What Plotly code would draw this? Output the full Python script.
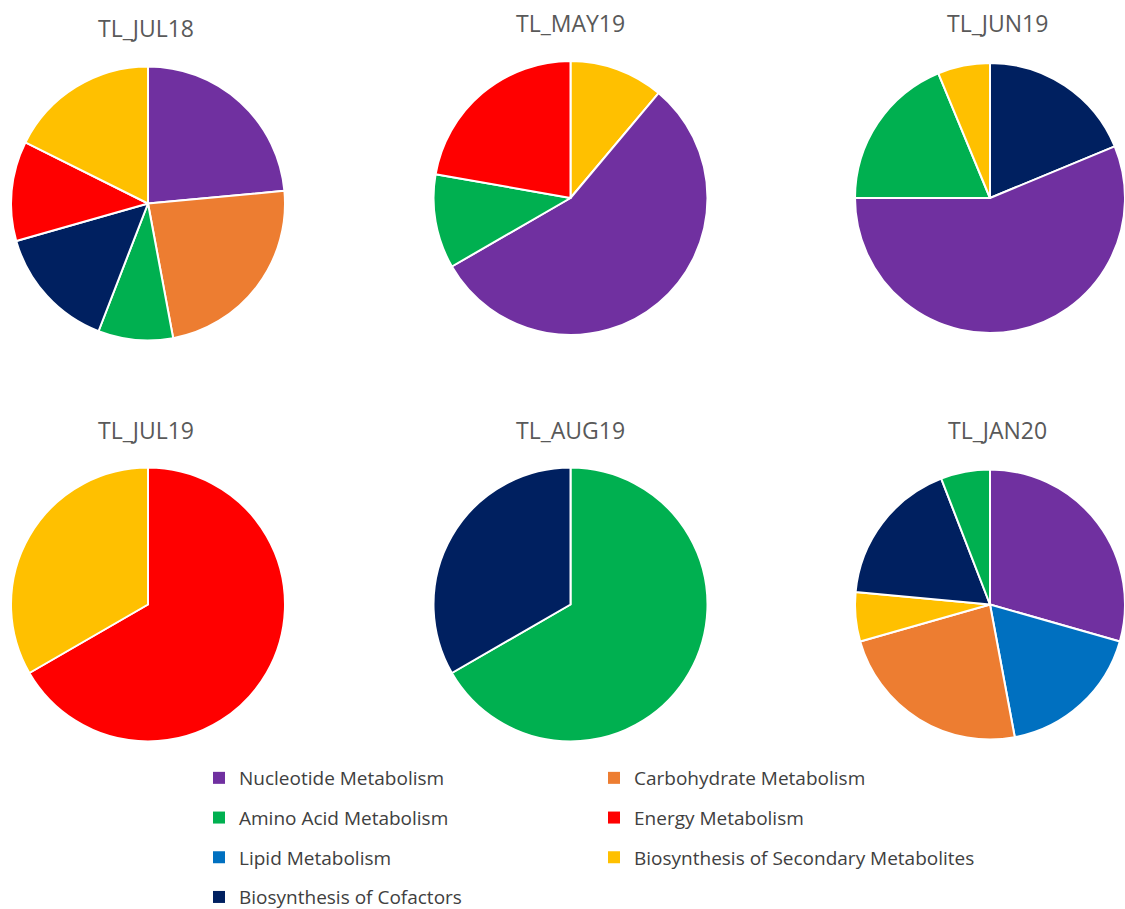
import plotly.graph_objects as go

# ---- data ----
categories = ["Nucleotide Metabolism", "Carbohydrate Metabolism", "Amino Acid Metabolism",
              "Energy Metabolism", "Lipid Metabolism", "Biosynthesis of Secondary Metabolites",
              "Biosynthesis of Cofactors"]
colors = ["#7030A0", "#ED7D31", "#00B050", "#FF0000", "#0070C0", "#FFC000", "#002060"]

titles = ["TL_JUL18", "TL_MAY19", "TL_JUN19", "TL_JUL19", "TL_AUG19", "TL_JAN20"]

jul18_labels = ["Nucleotide Metabolism", "Carbohydrate Metabolism", "Amino Acid Metabolism",
                "Biosynthesis of Cofactors", "Energy Metabolism", "Biosynthesis of Secondary Metabolites"]
jul18_values = [8, 8, 3, 5, 4, 6]

may19_labels = ["Biosynthesis of Secondary Metabolites", "Nucleotide Metabolism",
                "Amino Acid Metabolism", "Energy Metabolism"]
may19_values = [1, 5, 1, 2]

jun19_labels = ["Biosynthesis of Cofactors", "Nucleotide Metabolism", "Amino Acid Metabolism",
                "Biosynthesis of Secondary Metabolites"]
jun19_values = [3, 9, 3, 1]

jul19_labels = ["Energy Metabolism", "Biosynthesis of Secondary Metabolites"]
jul19_values = [2, 1]

aug19_labels = ["Amino Acid Metabolism", "Biosynthesis of Cofactors"]
aug19_values = [2, 1]

jan20_labels = ["Nucleotide Metabolism", "Lipid Metabolism", "Carbohydrate Metabolism",
                "Biosynthesis of Secondary Metabolites", "Biosynthesis of Cofactors",
                "Amino Acid Metabolism"]
jan20_values = [5, 3, 4, 1, 3, 1]

pies = [(jul18_labels, jul18_values), (may19_labels, may19_values), (jun19_labels, jun19_values),
        (jul19_labels, jul19_values), (aug19_labels, aug19_values), (jan20_labels, jan20_values)]

# ---- layout geometry (pixels) ----
W, H = 1125, 909
centers = [(148, 203.5, 137), (570.5, 198, 137), (990, 198, 135),
           (148, 604.5, 137), (570.5, 604.5, 137), (990, 604.5, 135)]
title_pos = [(146, 28.5), (570, 22.5), (997, 22.5), (146, 430), (570, 430), (997, 430)]

color_map = dict(zip(categories, colors))

fig = go.Figure()

# legend entries (one group per category -> controlled order and row spacing)
for cat in categories:
    fig.add_trace(go.Scatter(
        x=[None], y=[None], mode="markers", name=cat, legendgroup=cat,
        marker=dict(symbol="square", size=12, color=color_map[cat]),
        hoverinfo="skip", showlegend=True))

for (labels, values), (cx, cy, r) in zip(pies, centers):
    fig.add_trace(go.Pie(
        labels=labels, values=values, sort=False, direction="clockwise", rotation=0,
        marker=dict(colors=[color_map[l] for l in labels], line=dict(color="white", width=2)),
        textinfo="none", showlegend=False,
        domain=dict(x=[(cx - r) / W, min((cx + r) / W, 1.0)],
                    y=[1 - (cy + r) / H, 1 - (cy - r) / H])))

annotations = []
for t, (tx, ty) in zip(titles, title_pos):
    annotations.append(dict(text=t, x=tx / W, y=1 - ty / H, xref="paper", yref="paper",
                            xanchor="center", yanchor="middle", showarrow=False,
                            font=dict(family="Open Sans", size=23, color="#595959")))

fig.update_layout(
    width=W, height=H,
    margin=dict(l=0, r=0, t=0, b=0, autoexpand=False),
    paper_bgcolor="white", plot_bgcolor="white",
    xaxis=dict(visible=False), yaxis=dict(visible=False),
    annotations=annotations,
    legend=dict(orientation="h", x=199 / W, xanchor="left", y=1 - 759 / H, yanchor="top",
                entrywidth=350, traceorder="grouped", tracegroupgap=12,
                font=dict(family="Open Sans", size=19, color="#404040"),
                bgcolor="rgba(0,0,0,0)"),
)

fig.write_html("out.html")
